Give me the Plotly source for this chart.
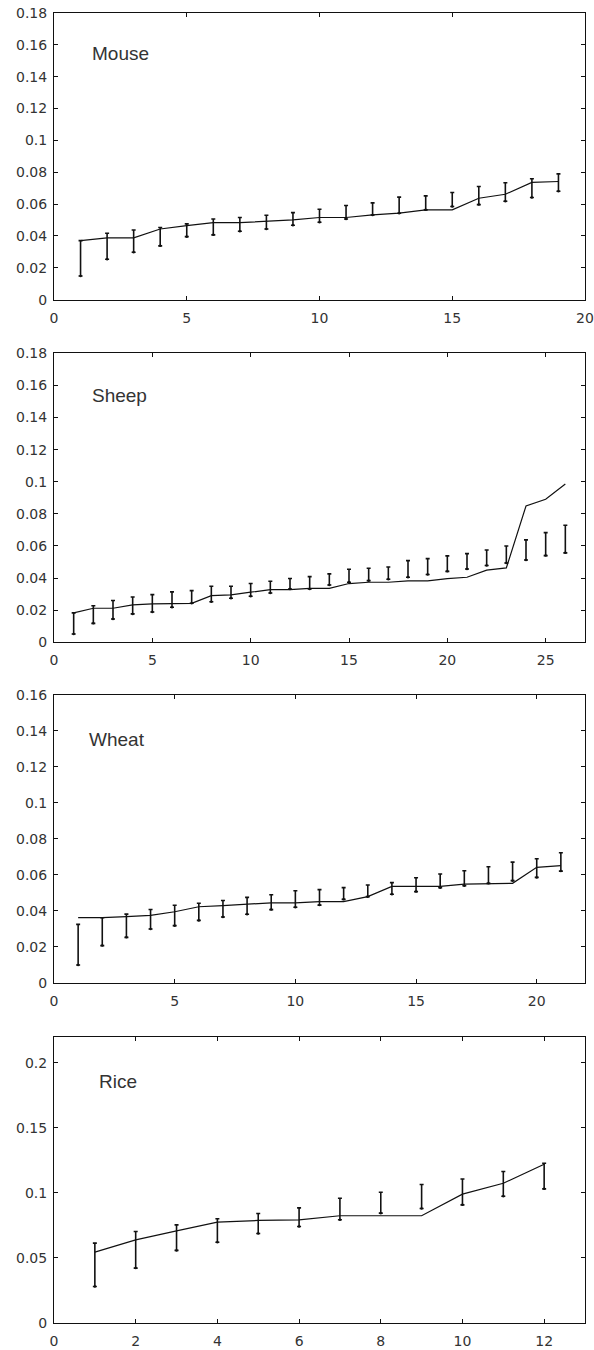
import plotly.graph_objects as go

# ---------------- data ----------------
mouse_x = list(range(1, 20))
mouse_line = [0.0371, 0.0388, 0.0388, 0.0444, 0.0465, 0.0484, 0.0484, 0.0493, 0.0501, 0.0516,
              0.0516, 0.0532, 0.0543, 0.0564, 0.0564, 0.0637, 0.0662, 0.0736, 0.0742]
mouse_hi = [0.0371, 0.0417, 0.0438, 0.0453, 0.0476, 0.0507, 0.0516, 0.0530, 0.0547, 0.0568,
            0.0591, 0.0608, 0.0644, 0.0652, 0.0673, 0.0711, 0.0734, 0.0759, 0.0790]
mouse_lo = [0.0149, 0.0254, 0.0298, 0.0338, 0.0396, 0.0407, 0.0430, 0.0444, 0.0467, 0.0486,
            0.0507, 0.0532, 0.0543, 0.0564, 0.0585, 0.0597, 0.0618, 0.0642, 0.0681]

sheep_x = list(range(1, 27))
sheep_line = [0.0183, 0.0212, 0.0212, 0.0233, 0.0239, 0.0239, 0.0243, 0.0291, 0.0295, 0.0312,
              0.0328, 0.0328, 0.0336, 0.0336, 0.0366, 0.0374, 0.0374, 0.0382, 0.0382, 0.0397,
              0.0405, 0.0449, 0.0463, 0.0849, 0.0891, 0.0986]
sheep_hi = [0.0183, 0.0228, 0.0260, 0.0282, 0.0297, 0.0314, 0.0322, 0.0349, 0.0349, 0.0366,
            0.0380, 0.0397, 0.0409, 0.0426, 0.0455, 0.0461, 0.0469, 0.0509, 0.0521, 0.0538,
            0.0552, 0.0575, 0.0600, 0.0638, 0.0683, 0.0729]
sheep_lo = [0.0052, 0.0118, 0.0145, 0.0177, 0.0189, 0.0218, 0.0243, 0.0253, 0.0274, 0.0287,
            0.0307, 0.0332, 0.0332, 0.0357, 0.0374, 0.0384, 0.0393, 0.0405, 0.0422, 0.0442,
            0.0457, 0.0478, 0.0494, 0.0513, 0.0540, 0.0557]

wheat_x = list(range(1, 22))
wheat_line = [0.0361, 0.0361, 0.0367, 0.0374, 0.0394, 0.0422, 0.0428, 0.0435, 0.0444, 0.0444,
              0.0450, 0.0450, 0.0478, 0.0535, 0.0535, 0.0535, 0.0548, 0.0552, 0.0552, 0.0641,
              0.0650]
wheat_hi = [0.0324, 0.0361, 0.0381, 0.0407, 0.0430, 0.0441, 0.0457, 0.0474, 0.0489, 0.0511,
            0.0517, 0.0528, 0.0543, 0.0556, 0.0583, 0.0604, 0.0622, 0.0644, 0.0670, 0.0689,
            0.0722]
wheat_lo = [0.0098, 0.0206, 0.0252, 0.0298, 0.0317, 0.0346, 0.0365, 0.0380, 0.0406, 0.0419,
            0.0431, 0.0463, 0.0478, 0.0491, 0.0506, 0.0528, 0.0539, 0.0552, 0.0567, 0.0585,
            0.0620]

rice_x = list(range(1, 13))
rice_line = [0.0545, 0.0639, 0.0708, 0.0775, 0.0788, 0.0793, 0.0824, 0.0824, 0.0824, 0.0990,
             0.1074, 0.1220]
rice_hi = [0.0614, 0.0703, 0.0754, 0.0801, 0.0841, 0.0885, 0.0959, 0.1005, 0.1064, 0.1107,
           0.1164, 0.1228]
rice_lo = [0.0281, 0.0422, 0.0558, 0.0621, 0.0688, 0.0742, 0.0793, 0.0844, 0.0880, 0.0908,
           0.0974, 0.1031]

names = ["Mouse", "Sheep", "Wheat", "Rice"]
xs = [mouse_x, sheep_x, wheat_x, rice_x]
lines = [mouse_line, sheep_line, wheat_line, rice_line]
his = [mouse_hi, sheep_hi, wheat_hi, rice_hi]
los = [mouse_lo, sheep_lo, wheat_lo, rice_lo]
x_ranges = [[0, 20], [0, 27], [0, 22], [0, 13]]
x_dticks = [5, 5, 5, 2]
y_ranges = [[0, 0.18], [0, 0.18], [0, 0.16], [0, 0.22]]
y_dticks = [0.02, 0.02, 0.02, 0.05]

# ---------------- layout geometry ----------------
W, H = 594, 1350
ml, mr, mt, mb = 54, 9, 13, 27
ph = H - mt - mb
panel_px = [(13.0, 299.7), (353.3, 642.3), (694.7, 982.7), (1036.7, 1323.0)]
label_pos = [(0.068, 0.86), (0.068, 0.855), (0.062, 0.845), (0.081, 0.843)]

fig = go.Figure()
layout = dict(
    width=W, height=H,
    margin=dict(l=ml, r=mr, t=mt, b=mb, autoexpand=False),
    paper_bgcolor="white", plot_bgcolor="white",
    showlegend=False,
    font=dict(family="DejaVu Sans", size=12, color="#222"),
    annotations=[],
)

for i in range(4):
    sfx = "" if i == 0 else str(i + 1)
    xa, ya = "x" + sfx, "y" + sfx
    fig.add_trace(go.Scatter(
        x=xs[i], y=lines[i], mode="lines",
        line=dict(color="#111", width=1.2),
        xaxis=xa, yaxis=ya, hoverinfo="skip"))
    fig.add_trace(go.Scatter(
        x=xs[i], y=los[i], mode="markers",
        marker=dict(size=2.5, color="#111"),
        error_y=dict(type="data", symmetric=False,
                     array=[h - l for h, l in zip(his[i], los[i])],
                     arrayminus=[0] * len(los[i]),
                     color="#111", thickness=1.6, width=2),
        xaxis=xa, yaxis=ya, hoverinfo="skip"))
    top, bot = panel_px[i]
    d0 = min(1.0, max(0.0, (H - mb - bot) / ph))
    d1 = min(1.0, max(0.0, (H - mb - top) / ph))
    axcommon = dict(showline=True, linecolor="#111", linewidth=1, mirror="allticks",
                    ticks="inside", ticklen=4, tickcolor="#111", showgrid=False,
                    zeroline=False, automargin=False, ticklabeloverflow="allow",
                    tickfont=dict(family="DejaVu Sans", size=14, color="#333"))
    layout["xaxis" + sfx] = dict(range=x_ranges[i], dtick=x_dticks[i], tick0=0,
                                 domain=[0, 1], anchor=ya, ticklabelstandoff=5, **axcommon)
    layout["yaxis" + sfx] = dict(range=y_ranges[i], dtick=y_dticks[i], tick0=0,
                                 domain=[d0, d1], anchor=xa, ticklabelstandoff=3, **axcommon)
    lx, ly = label_pos[i]
    layout["annotations"].append(dict(
        text=names[i], xref=xa + " domain", yref=ya + " domain",
        x=lx, y=ly, xanchor="left", yanchor="middle", showarrow=False,
        font=dict(family="Liberation Sans", size=19, color="#333")))

fig.update_layout(**layout)
fig.write_html("out.html", config={"displayModeBar": False, "staticPlot": True},
               post_script="document.body.style.margin='0';document.body.style.overflow='hidden';")
